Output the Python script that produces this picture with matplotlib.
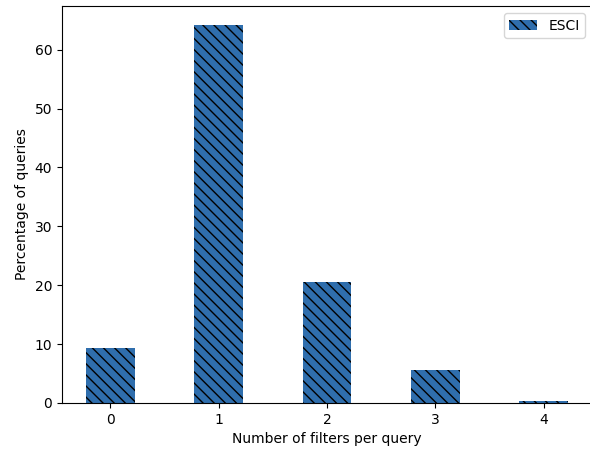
import matplotlib
matplotlib.use("Agg")
import matplotlib.pyplot as plt

# data
filters = [0, 1, 2, 3, 4]
esci = [9.3, 64.2, 20.5, 5.6, 0.4]

fig = plt.figure(figsize=(5.9, 4.5), dpi=100)
ax = fig.add_axes([62 / 590, 47 / 450, 530 / 590, 397 / 450])
ax.bar(filters, esci, width=0.45, color="#2f6ead", hatch="\\\\\\", label="ESCI")
ax.set_xticks(filters)
ax.set_xlabel("Number of filters per query")
ax.set_ylabel("Percentage of queries")
ax.legend(loc="upper right")
fig.savefig("out.png")
